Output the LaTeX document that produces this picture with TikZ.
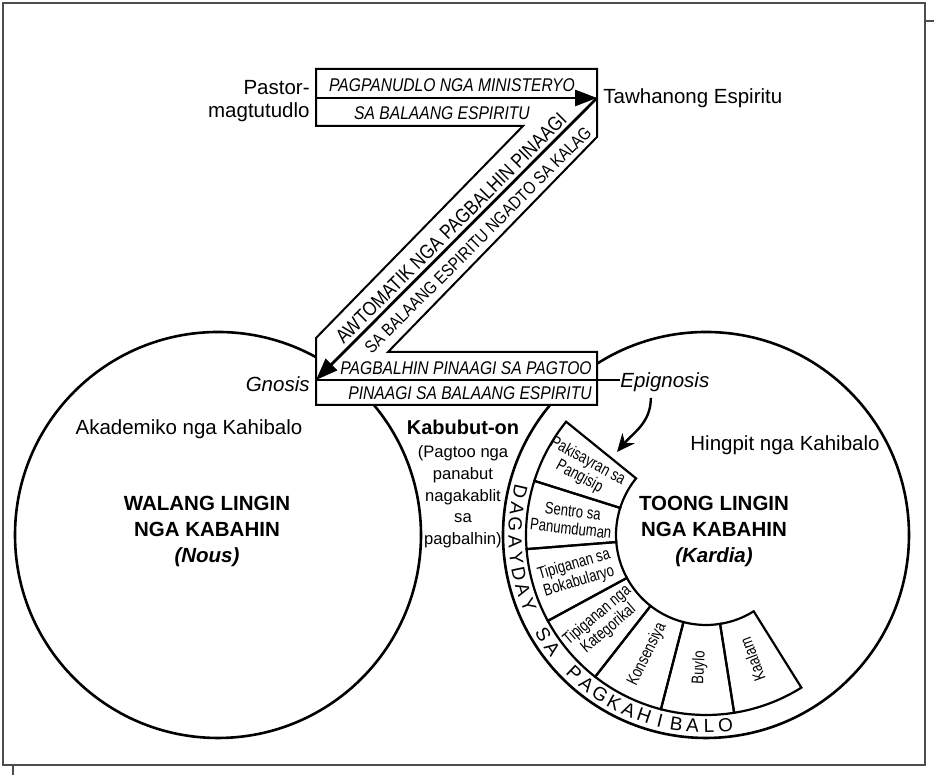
\documentclass[tikz,border=0pt]{standalone}
\usepackage{fontspec}
\setmainfont{Liberation Sans}
\newfontfamily\narrowfont[FakeStretch=0.85]{Liberation Sans}
\newfontfamily\slimfont[FakeStretch=0.78]{Liberation Sans}
\usepackage{tikz}
\usetikzlibrary{arrows.meta, positioning}
\tikzstyle{frame} = [draw=black!70, line width=0.8pt]
\tikzstyle{circ} = [draw, line width=1.3pt]
\tikzstyle{zline} = [draw, line width=1pt, fill=white]
\tikzstyle{segline} = [draw, line width=1.1pt]
\tikzstyle{arrowline} = [draw, line width=1.4pt]
\tikzstyle{lbl} = [inner sep=0pt, font=\fontsize{10.25}{11.5}\selectfont]
\tikzstyle{bigtxt} = [inner sep=0pt, align=center, font=\bfseries\fontsize{10.25}{13}\selectfont]
\tikzstyle{smalltxt} = [inner sep=0pt, align=center, font=\fontsize{8.3}{10.85}\selectfont]
\tikzstyle{bandtxt} = [inner sep=0pt, font=\narrowfont\itshape\fontsize{9.2}{10}\selectfont]
\tikzstyle{diagtxt} = [inner sep=0pt, rotate=45]
\tikzstyle{segtxt} = [inner sep=0pt, align=center, font=\slimfont\fontsize{8.4}{8.8}\selectfont]
\tikzstyle{ringtxt} = [inner sep=0pt, font=\fontsize{9.5}{10}\selectfont]

\begin{document}
\begin{tikzpicture}[x=0.5pt, y=0.5pt]
\useasboundingbox (0,0) rectangle (934,775);
\draw[frame] (3,10) rectangle (925,772);
\draw[frame] (925,754) -- (934,754);
\draw[frame] (13,10) -- (13,0);

\draw[circ] (218,240) circle[radius=203];
\draw[circ] (706,240) circle[radius=203];

% the heart: seven chambers and the ring around them
\begin{scope}[shift={(706,240)}]
  \foreach \a/\b/\r/\txt [count=\i] in {141/162.5/139/{Pakisayran sa\\Pangisip}, 162.5/184.5/135/{Sentro sa\\Panumduman}, 184.5/208.5/135/{Tipiganan sa\\Bokabularyo}, 208.5/232/135/{Tipiganan nga\\Kategorikal}, 232/255.5/133/Konsensiya, 255.5/279/133/Buylo, 279/302/133/Kaalam} {
    \pgfmathsetmacro{\m}{(\a+\b)/2}
    \path[segline] (\a:90) -- (\a:180) arc[start angle=\a, end angle=\b, radius=180] -- (\b:90) arc[start angle=\b, end angle=\a, radius=90] -- cycle;
    \node[segtxt, rotate=\m-180] (seg\i) at (\m:\r) {\txt};
  }
  \foreach \ch [count=\i from 0] in {D,A,G,A,Y,D,A,Y,{},S,A,{},P,A,G,K,A,H,I,B,A,L,O} {
    \pgfmathsetmacro{\ang}{167+4.95*\i}
    \node[ringtxt, rotate=\ang+90] (ring\i) at (\ang:191) {\ch};
  }
\end{scope}

\path[zline] (316,706) -- (597,706) -- (597,638) -- (388,423) -- (597,423) -- (597,370) -- (316,370) -- (316,437) -- (523,649) -- (316,649) -- cycle;

\coordinate (A) at (316,677);
\coordinate (B) at (597,677);
\coordinate (C) at (316,395);
\coordinate (epitip) at (617,323);

\node[lbl, anchor=east, align=right] (pastor) at (310,674) {Pastor-\\magtutudlo};
\node[lbl, anchor=west] (taw) at (603,677) {Tawhanong Espiritu};
\node[lbl, anchor=east] (gnosis) at (310,391) {\textit{Gnosis}};
\node[lbl, anchor=west] (epi) at (620,393) {\textit{Epignosis}};

\node[bandtxt] (t1) at (452,690) {PAGPANUDLO NGA MINISTERYO};
\node[bandtxt] (t2) at (442,662) {SA BALAANG ESPIRITU};
\node[bandtxt] (t3) at (466,407) {PAGBALHIN PINAAGI SA PAGTOO};
\node[bandtxt] (t4) at (470,382) {PINAAGI SA BALAANG ESPIRITU};
\node[diagtxt, font=\narrowfont\fontsize{10}{11}\selectfont] (d1) at (451,547) {AWTOMATIK NGA PAGBALHIN PINAAGI};
\node[diagtxt, font=\narrowfont\fontsize{8.75}{10}\selectfont] (d2) at (478,535) {SA BALAANG ESPIRITU NGADTO SA KALAG};

\path[arrowline, -{Triangle[length=11pt, width=8pt]}] (A) -- (B);
\path[arrowline, -{Triangle[length=11pt, width=8pt]}] (B) -- (C);
\path[arrowline] (C) -- (C -| epi.west);
\path[draw, line width=1.2pt, -{Stealth[length=9pt, width=8pt]}] ([xshift=-7pt, yshift=-3pt]epi.south) to[out=-90, in=50] (epitip);

\node[lbl] (akad) at (189,346) {Akademiko nga Kahibalo};
\node[lbl] (hing) at (785,330) {Hingpit nga Kahibalo};
\node[bigtxt] (walang) at (207,244) {WALANG LINGIN\\NGA KABAHIN\\\textit{(Nous)}};
\node[bigtxt] (toong) at (714,244) {TOONG LINGIN\\NGA KABAHIN\\\textit{(Kardia)}};
\node[lbl, font=\bfseries\fontsize{10}{11}\selectfont] (kabubut) at (463,348) {Kabubut-on};
\node[smalltxt] (pagtoo) at (463,278) {(Pagtoo nga\\panabut\\nagakablit\\sa\\pagbalhin)};
\end{tikzpicture}
\end{document}
